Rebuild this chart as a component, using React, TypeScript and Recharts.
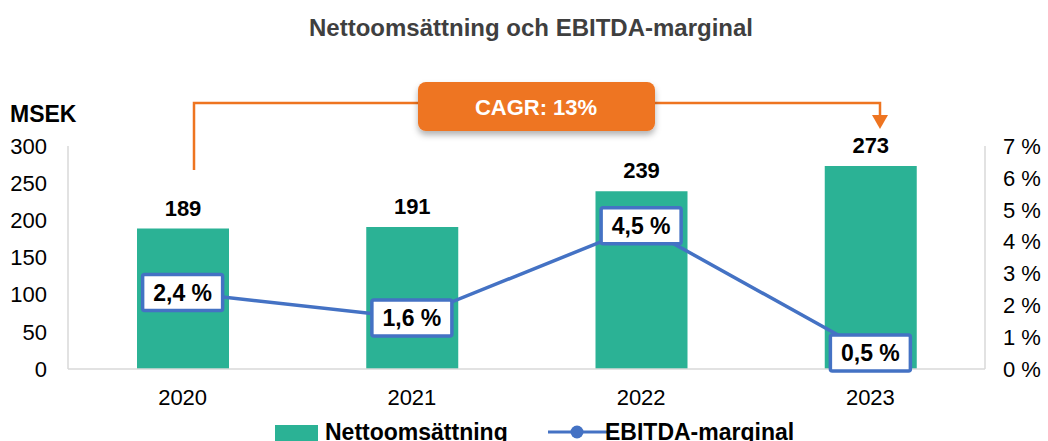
import React from 'react';
import { ComposedChart, Bar, Line, XAxis, YAxis, LabelList } from 'recharts';

const years = ['2020', '2021', '2022', '2023'];
const netSales = [189, 191, 239, 273];
const ebitdaMargin = [2.4, 1.6, 4.5, 0.5];
const leftTicks = [0, 50, 100, 150, 200, 250, 300];
const rightTicks = [0, 1, 2, 3, 4, 5, 6, 7];

const data = years.map((y, i) => ({ year: y, sales: netSales[i], margin: ebitdaMargin[i] }));

const FONT = '"Liberation Sans", Arial, Helvetica, sans-serif';
const GREEN = '#2BB295';
const BLUE = '#4472C4';
const ORANGE = '#EE7420';
const AXIS = '#D9D9D9';

const fmtPct = (v: number) => v.toFixed(1).replace('.', ',') + ' %';

const MarginLabel = (props: any) => {
  const { x, y, value } = props;
  const w = 80;
  const h = 36;
  return (
    <g>
      <rect x={x - w / 2} y={y - h / 2} width={w} height={h} fill="#fff" stroke={BLUE} strokeWidth={3.5} rx={2} />
      <text x={x} y={y + 8} textAnchor="middle" fontFamily={FONT} fontWeight="bold" fontSize={23} fill="#000">
        {fmtPct(value)}
      </text>
    </g>
  );
};

export default function App() {
  return (
    <div style={{ position: 'absolute', left: 0, top: 0, width: 1048, height: 441, background: '#fff', overflow: 'hidden' }}>
      <ComposedChart
        width={1048}
        height={441}
        data={data}
        margin={{ top: 146, right: 0, left: 0, bottom: 32 }}
        barCategoryGap="0%"
      >
        <XAxis
          dataKey="year"
          axisLine={{ stroke: AXIS, strokeWidth: 1.5 }}
          tickLine={false}
          tickSize={0}
          tickMargin={20}
          height={40}
          tick={{ fontFamily: FONT, fontSize: 22, fill: '#000' }}
        />
        <YAxis
          yAxisId="left"
          orientation="left"
          domain={[0, 300]}
          ticks={leftTicks}
          width={68}
          axisLine={{ stroke: AXIS, strokeWidth: 1.5 }}
          tickLine={false}
          tickSize={0}
          tickMargin={21}
          tick={{ fontFamily: FONT, fontSize: 22, fill: '#000' }}
        />
        <YAxis
          yAxisId="right"
          orientation="right"
          domain={[0, 7]}
          ticks={rightTicks}
          width={63}
          axisLine={{ stroke: AXIS, strokeWidth: 1.5 }}
          tickLine={false}
          tickSize={0}
          tickMargin={18}
          tickFormatter={(v: number) => v + ' %'}
          tick={{ fontFamily: FONT, fontSize: 22, fill: '#000', textAnchor: 'start' }}
        />
        <Bar yAxisId="left" dataKey="sales" fill={GREEN} barSize={92} isAnimationActive={false}>
          <LabelList
            dataKey="sales"
            position="top"
            offset={13}
            style={{ fontFamily: FONT, fontWeight: 'bold', fontSize: 22, fill: '#000' }}
          />
        </Bar>
        <Line
          yAxisId="right"
          dataKey="margin"
          stroke={BLUE}
          strokeWidth={3.5}
          dot={false}
          isAnimationActive={false}
        >
          <LabelList dataKey="margin" content={MarginLabel} />
        </Line>
      </ComposedChart>

      <svg width={1048} height={441} style={{ position: 'absolute', left: 0, top: 0, pointerEvents: 'none' }}>
        <defs>
          <filter id="sh" x="-20%" y="-20%" width="140%" height="160%">
            <feDropShadow dx="0" dy="4" stdDeviation="3" floodColor="#000" floodOpacity="0.3" />
          </filter>
        </defs>
        <text x={531} y={36} textAnchor="middle" fontFamily={FONT} fontWeight="bold" fontSize={24} fill="#3F3F3F">
          Nettoomsättning och EBITDA-marginal
        </text>
        <text x={10} y={122} fontFamily={FONT} fontWeight="bold" fontSize={23} fill="#000">MSEK</text>

        <polyline points="194,170 194,103 880,103 880,116" fill="none" stroke={ORANGE} strokeWidth={2.5} />
        <polygon points="872,115 888,115 880,129" fill={ORANGE} />
        <rect x={418} y={82} width={237} height={49} rx={8} fill={ORANGE} filter="url(#sh)" />
        <text x={536} y={115} textAnchor="middle" fontFamily={FONT} fontWeight="bold" fontSize={22} fill="#fff">
          CAGR: 13%
        </text>

        <rect x={275} y={425} width={43} height={16} fill={GREEN} />
        <text x={325} y={440} fontFamily={FONT} fontWeight="bold" fontSize={23} fill="#000">Nettoomsättning</text>
        <line x1={548} y1={432} x2={608} y2={432} stroke={BLUE} strokeWidth={3} />
        <circle cx={577} cy={432} r={6.5} fill={BLUE} />
        <text x={605} y={440} fontFamily={FONT} fontWeight="bold" fontSize={23} fill="#000">EBITDA-marginal</text>
      </svg>
    </div>
  );
}
